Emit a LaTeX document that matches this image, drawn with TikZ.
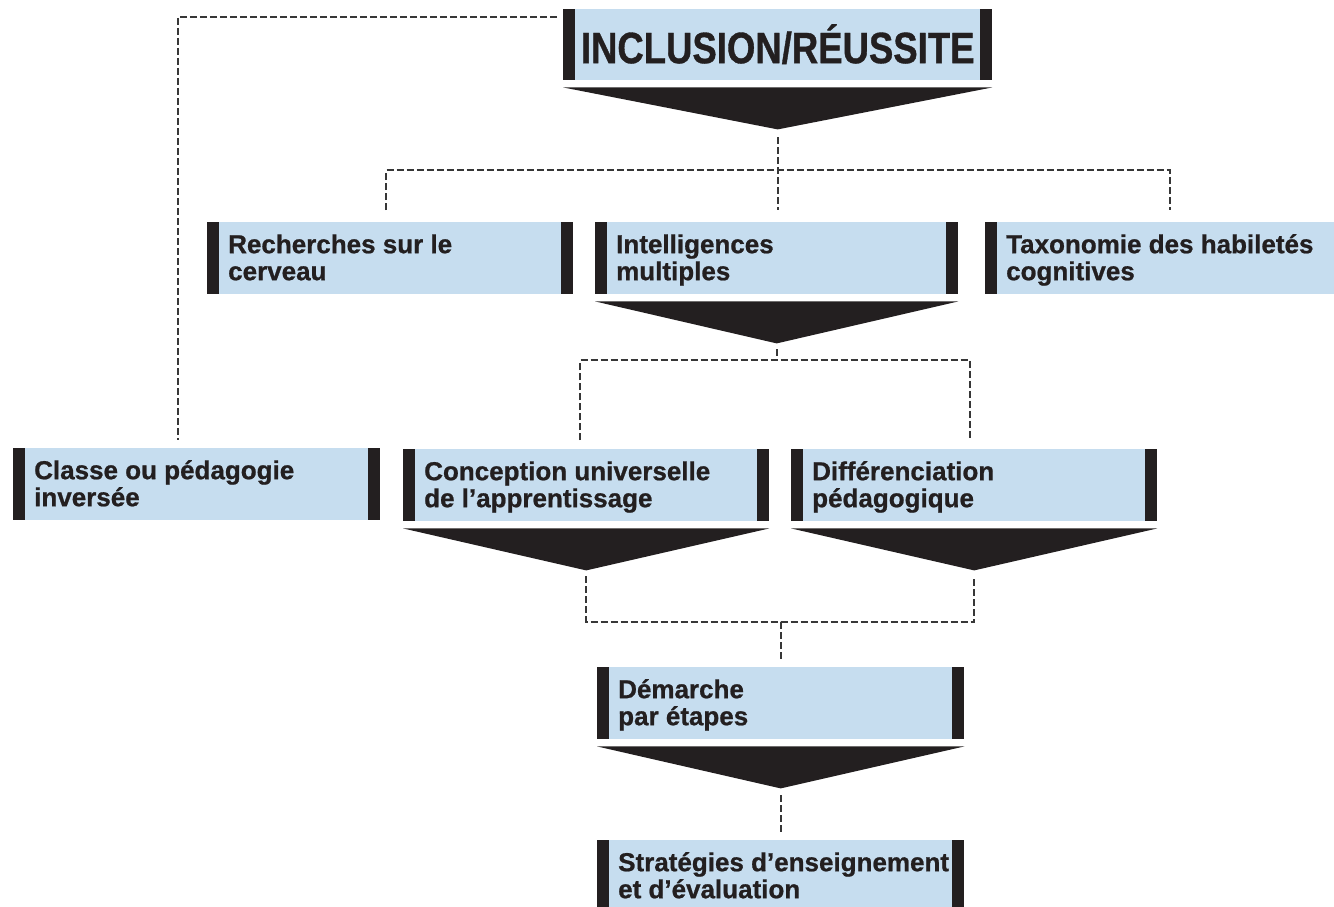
\documentclass[tikz,border=0pt]{standalone}
\usepackage{fontspec}
\setmainfont{Liberation Sans}
\newfontfamily\bodyfont{Liberation Sans}[FakeBold=0.8]
\newfontfamily\titlefont{Liberation Sans}[FakeStretch=0.83,FakeBold=0.8]
\usetikzlibrary{calc}
\definecolor{boxblue}{RGB}{198,221,239}
\definecolor{barblack}{RGB}{35,31,32}
\definecolor{dashgray}{RGB}{55,55,55}
\newcommand{\paneltext}[2]{\hspace*{21pt}\parbox[t][72pt][t]{\dimexpr#1-21pt\relax}{\bodyfont\fontsize{26pt}{27pt}\selectfont\bfseries\lineskiplimit=-100pt\raggedright\rule{0pt}{31pt}#2}}
\newcommand{\titletext}[2]{\parbox[t][71pt][t]{#1}{\centering\titlefont\fontsize{44pt}{44pt}\selectfont\bfseries\rule{0pt}{54pt}#2}}
\newcommand{\pointerunder}[1]{%
  \fill[barblack] ([yshift=-7pt]#1.south west) -- ([yshift=-7pt]#1.south east) -- ([yshift=-49pt]#1.south) -- cycle;
  \coordinate (#1tip) at ([yshift=-49pt]#1.south);}
\tikzset{
  x=1pt, y=-1pt,
  panelbase/.style={anchor=north west, inner sep=0pt, fill=boxblue, text=barblack},
  leftbar/.style={path picture={
      \fill[barblack] (path picture bounding box.north west) rectangle ([xshift=12pt]path picture bounding box.south west);}},
  bothbars/.style={path picture={
      \fill[barblack] (path picture bounding box.north west) rectangle ([xshift=12pt]path picture bounding box.south west);
      \fill[barblack] ([xshift=-12pt]path picture bounding box.north east) rectangle (path picture bounding box.south east);}},
  panel/.style={panelbase, bothbars},
  panelL/.style={panelbase, leftbar},
  conn/.style={draw=dashgray, line width=2pt, dash pattern=on 7pt off 3pt},
}
\begin{document}
\begin{tikzpicture}
\path[use as bounding box, fill=white] (0,0) rectangle (1334,907);
\clip (0,0) rectangle (1334,907);

% panels
\node[panel] (title) at (563,9) {\titletext{429pt}{INCLUSION/RÉUSSITE}};
\node[panel] (rech) at (207,222) {\paneltext{366pt}{Recherches sur le\\cerveau}};
\node[panel] (intel) at (595,222) {\paneltext{363pt}{Intelligences\\multiples}};
\node[panelL] (taxo) at (985,222) {\paneltext{349pt}{Taxonomie des habiletés\\cognitives}};
\node[panel] (classe) at (13,448) {\paneltext{367pt}{Classe ou pédagogie\\inversée}};
\node[panel] (concep) at (403,449) {\paneltext{366pt}{Conception universelle\\de l’apprentissage}};
\node[panel] (diff) at (791,449) {\paneltext{366pt}{Différenciation\\pédagogique}};
\node[panel] (demar) at (597,667) {\paneltext{367pt}{Démarche\\par étapes}};
\node[panel] (strat) at (597,840) {\paneltext{367pt}{Stratégies d’enseignement\\et d’évaluation}};

% pointers
\pointerunder{title}
\pointerunder{intel}
\pointerunder{concep}
\pointerunder{diff}
\pointerunder{demar}

% connectors
\draw[conn] ([xshift=-6pt,yshift=-8pt]title.north west) -| ([xshift=165pt,yshift=8pt]classe.north west);
\coordinate (j1) at ([yshift=-41pt]titletip);
\draw[conn] ([yshift=-8pt]titletip) -- ([yshift=12pt]intel.north -| titletip);
\draw[conn] ([xshift=-4pt,yshift=12pt]rech.north) |- (j1) -| ([xshift=10pt,yshift=12pt]taxo.north);
\coordinate (j2) at ([yshift=-17pt]inteltip);
\draw[conn] ([yshift=-6pt]inteltip) -- (j2);
\draw[conn] ([xshift=-6pt,yshift=9pt]concep.north) |- (j2) -| ([xshift=-4pt,yshift=9pt]diff.north);
\coordinate (j3) at ([yshift=45pt]demar.north);
\draw[conn] ([yshift=-6pt]conceptip) |- (j3) -| ([yshift=-6pt]difftip);
\draw[conn] (j3) -- ([yshift=7pt]demar.north);
\draw[conn] ([yshift=-7pt]demartip) -- ([yshift=5pt]strat.north);
\end{tikzpicture}
\end{document}
